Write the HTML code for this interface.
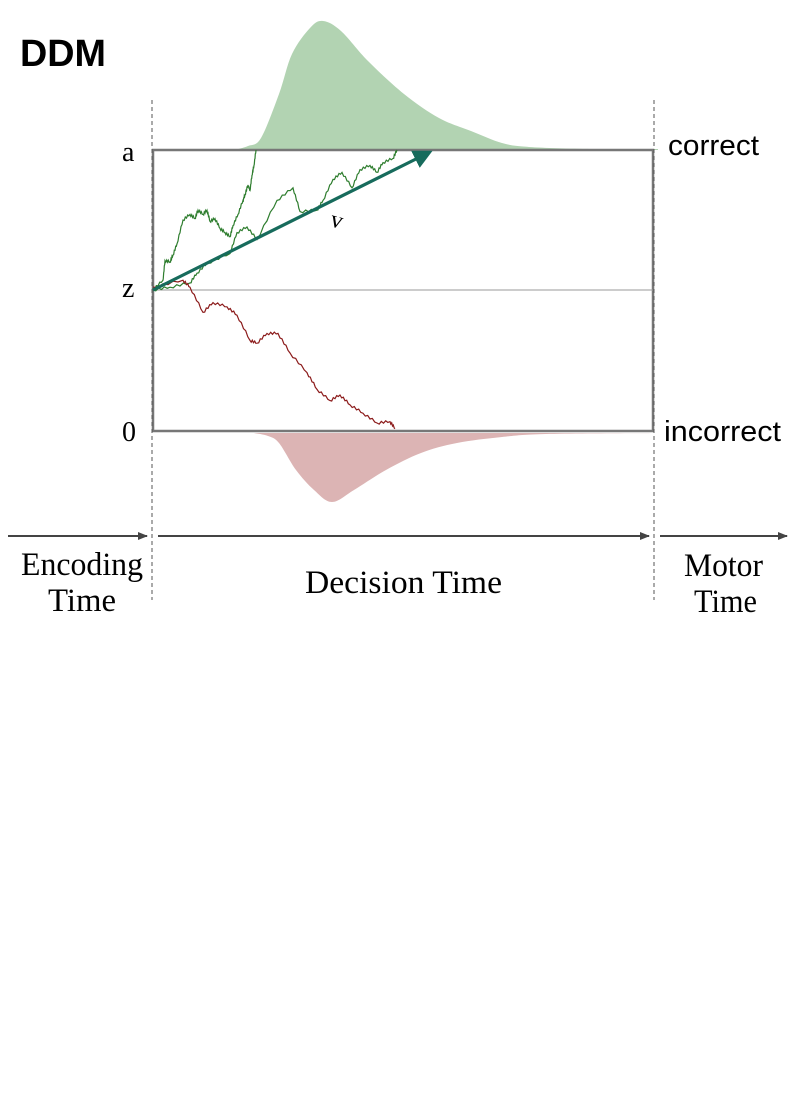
<!DOCTYPE html>
<html><head><meta charset="utf-8">
<style>
html,body{margin:0;padding:0;background:#fff;}
svg{display:block;}
.serif{font-family:"Liberation Serif",serif;}
.sans{font-family:"Liberation Sans",sans-serif;}
</style></head>
<body>
<svg id="chart" width="793" height="1095" viewBox="0 0 793 1095" xmlns="http://www.w3.org/2000/svg">
<text x="20" y="66" class="sans" font-size="38" font-weight="bold" textLength="86" lengthAdjust="spacingAndGlyphs">DDM</text>
<g id="dens"></g>
<rect x="153" y="150" width="500" height="281" fill="none" stroke="#777" stroke-width="2.5"/>
<line x1="153" y1="290" x2="653" y2="290" stroke="#999" stroke-width="1"/>
<line x1="152" y1="100" x2="152" y2="600" stroke="#555" stroke-width="1" stroke-dasharray="4,3"/>
<line x1="654" y1="100" x2="654" y2="600" stroke="#555" stroke-width="1" stroke-dasharray="4,3"/>
<g id="walks"></g>
<defs>
<marker id="vh" markerWidth="6" markerHeight="6" refX="3" refY="3" orient="auto" markerUnits="strokeWidth"><path d="M0,0 L6,3 L0,6 Z" fill="#176b5c"/></marker>
<marker id="ah" markerWidth="10" markerHeight="8" refX="9" refY="4" orient="auto" markerUnits="userSpaceOnUse"><path d="M0,0 L10,4 L0,8 Z" fill="#444"/></marker>
</defs>
<line x1="153" y1="290" x2="424" y2="155" stroke="#176b5c" stroke-width="3.2" marker-end="url(#vh)"/>
<text x="331" y="228" class="serif" font-size="24" transform="rotate(15 338 220)">v</text>
<text x="122" y="161" class="serif" font-size="28">a</text>
<text x="122" y="297" class="serif" font-size="28">z</text>
<text x="122" y="441" class="serif" font-size="28">0</text>
<text x="668" y="155" class="sans" font-size="29" textLength="91" lengthAdjust="spacingAndGlyphs">correct</text>
<text x="664" y="441" class="sans" font-size="29" textLength="117" lengthAdjust="spacingAndGlyphs">incorrect</text>
<line x1="8" y1="536" x2="147" y2="536" stroke="#444" stroke-width="2" marker-end="url(#ah)"/>
<line x1="158" y1="536" x2="649" y2="536" stroke="#444" stroke-width="2" marker-end="url(#ah)"/>
<line x1="660" y1="536" x2="787" y2="536" stroke="#444" stroke-width="2" marker-end="url(#ah)"/>
<text x="21" y="575" class="serif" font-size="33" textLength="122" lengthAdjust="spacingAndGlyphs">Encoding</text>
<text x="48" y="611" class="serif" font-size="33" textLength="68" lengthAdjust="spacingAndGlyphs">Time</text>
<text x="305" y="593" class="serif" font-size="33" textLength="197" lengthAdjust="spacingAndGlyphs">Decision Time</text>
<text x="684" y="576" class="serif" font-size="33" textLength="79" lengthAdjust="spacingAndGlyphs">Motor</text>
<text x="694" y="612" class="serif" font-size="33" textLength="63" lengthAdjust="spacingAndGlyphs">Time</text>
</svg>
<script>
// time units 0..500 across box; evidence relative to z (1 = upper bound a, -1 = lower bound 0)
const correctT=[81,95,108,126,139,157,170,188,215,251,286,318,349,376,438,505];
const correctD=[0,4,12,56,96,122,129,119,89,56,32,19,7,3,1,1];
const errorT=[101,115,126,143,161,179,201,233,268,304,349,393,505];
const errorD=[0,3,10,37,57,69,57,37,20,10,4,1,0];
const walk1T=[0,10,12,17,20,24,30,37,42,45,50,54,57,62,67,72,77,80,85,90,92,95,97,99,101,103];
const walk1E=[0,0.07,0.21,0.20,0.25,0.33,0.50,0.54,0.51,0.57,0.54,0.57,0.49,0.51,0.44,0.41,0.38,0.46,0.54,0.64,0.68,0.75,0.71,0.82,0.89,1.0];
const walk2T=[0,17,37,44,54,77,84,94,104,124,140,147,164,170,180,189,199,207,217,224,230,240,244];
const walk2E=[0,0.02,0.05,0.12,0.19,0.26,0.41,0.45,0.36,0.64,0.73,0.56,0.57,0.64,0.79,0.84,0.73,0.86,0.89,0.84,0.91,0.94,1.0];
const walk3T=[0,30,37,50,60,74,84,97,104,114,125,137,154,164,177,187,197,210,224,237,242];
const walk3E=[0.02,0.07,0.02,-0.16,-0.09,-0.12,-0.18,-0.36,-0.38,-0.31,-0.31,-0.45,-0.59,-0.71,-0.79,-0.75,-0.82,-0.88,-0.95,-0.94,-0.99];
const x=t=>153+t, yE=e=>290-e*140, densUp=d=>150-d, densDn=d=>433+d;
const ns="http://www.w3.org/2000/svg";
function smoothPath(P){
  let d=`M${P[0][0]},${P[0][1]}`;
  for(let i=0;i<P.length-1;i++){
    const p0=P[Math.max(0,i-1)],p1=P[i],p2=P[i+1],p3=P[Math.min(P.length-1,i+2)];
    const c1=[p1[0]+(p2[0]-p0[0])/6,p1[1]+(p2[1]-p0[1])/6];
    const c2=[p2[0]-(p3[0]-p1[0])/6,p2[1]-(p3[1]-p1[1])/6];
    d+=` C${c1[0]},${c1[1]} ${c2[0]},${c2[1]} ${p2[0]},${p2[1]}`;
  }
  return d;
}
function area(T,D,fy,base,fill,name){
  const P=T.map((t,i)=>[x(t),fy(D[i])]);
  const d=smoothPath(P)+` L${x(T[T.length-1])},${base} L${x(T[0])},${base} Z`;
  const p=document.createElementNS(ns,'path');
  p.setAttribute('d',d);p.setAttribute('fill',fill);
  
  
  document.getElementById('dens').appendChild(p);
}
area(correctT,correctD,densUp,150,'#b2d3b2','correct-rt-density');
area(errorT,errorD,densDn,433,'#dcb4b4','incorrect-rt-density');
const wig=[1.3,-1.1,0.9,-1.3,0.6];
function walk(T,E,color,name){
  const pts=[];
  for(let i=0;i<T.length;i++){
    const X=x(T[i]),Y=yE(E[i]);
    pts.push([X,Y]);
    if(i<T.length-1){
      const X2=x(T[i+1]),Y2=yE(E[i+1]);
      for(let k=1;k<=wig.length;k++){
        const f=k/(wig.length+1);
        pts.push([X+(X2-X)*f,Y+(Y2-Y)*f+wig[k-1]]);
      }
    }
  }
  const p=document.createElementNS(ns,'polyline');
  p.setAttribute('points',pts.map(q=>q[0].toFixed(1)+','+Math.max(150,Math.min(431,q[1])).toFixed(1)).join(' '));
  p.setAttribute('fill','none');p.setAttribute('stroke',color);p.setAttribute('stroke-width','1.2');
  
  
  document.getElementById('walks').appendChild(p);
}
walk(walk1T,walk1E,'#2e7d2e','fast-correct-walk');
walk(walk2T,walk2E,'#2e7d2e','slow-correct-walk');
walk(walk3T,walk3E,'#8b1a1a','incorrect-walk');
</script>
</body></html>
